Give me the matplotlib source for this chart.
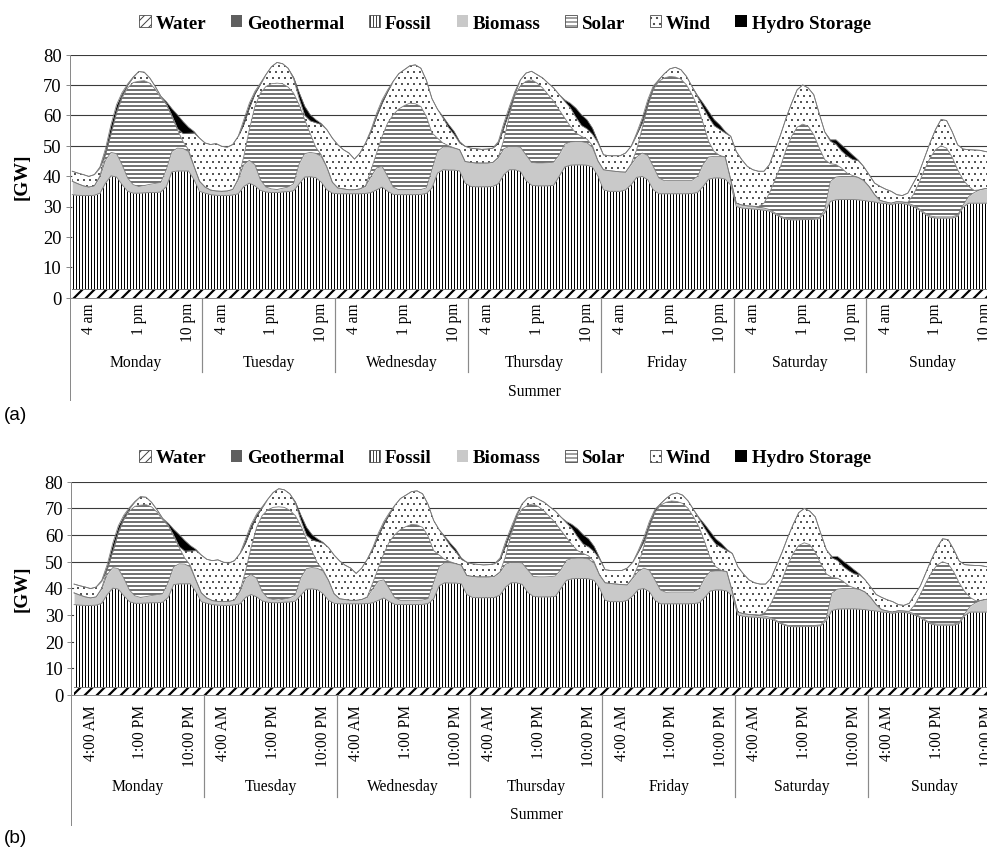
import numpy as np
import matplotlib
matplotlib.use('Agg')
import matplotlib.pyplot as plt
from matplotlib.patches import Patch

plt.rcParams['font.family'] = ['Liberation Serif', 'DejaVu Serif']
plt.rcParams['hatch.linewidth'] = 1.0

# ---------------- data (GW, hourly, hour 1..24 of each day) ----------------
days = ['Monday', 'Tuesday', 'Wednesday', 'Thursday', 'Friday', 'Saturday', 'Sunday']
season = 'Summer'
tick_hours = [3, 12, 21]
tick_labels_a = ['4 am', '1 pm', '10 pm']
tick_labels_b = ['4:00 AM', '1:00 PM', '10:00 PM']
series_names = ['Water', 'Geothermal', 'Fossil', 'Biomass', 'Solar', 'Wind', 'Hydro Storage']

water = [
    2.6, 2.6, 2.6, 2.6, 2.6, 2.6, 2.6, 2.6, 2.6, 2.6, 2.6, 2.6, 2.6, 2.6, 2.6, 2.6, 2.6, 2.6, 2.6, 2.6, 2.6, 2.6, 2.6, 2.6,
    2.6, 2.6, 2.6, 2.6, 2.6, 2.6, 2.6, 2.6, 2.6, 2.6, 2.6, 2.6, 2.6, 2.6, 2.6, 2.6, 2.6, 2.6, 2.6, 2.6, 2.6, 2.6, 2.6, 2.6,
    2.6, 2.6, 2.6, 2.6, 2.6, 2.6, 2.6, 2.6, 2.6, 2.6, 2.6, 2.6, 2.6, 2.6, 2.6, 2.6, 2.6, 2.6, 2.6, 2.6, 2.6, 2.6, 2.6, 2.6,
    2.6, 2.6, 2.6, 2.6, 2.6, 2.6, 2.6, 2.6, 2.6, 2.6, 2.6, 2.6, 2.6, 2.6, 2.6, 2.6, 2.6, 2.6, 2.6, 2.6, 2.6, 2.6, 2.6, 2.6,
    2.6, 2.6, 2.6, 2.6, 2.6, 2.6, 2.6, 2.6, 2.6, 2.6, 2.6, 2.6, 2.6, 2.6, 2.6, 2.6, 2.6, 2.6, 2.6, 2.6, 2.6, 2.6, 2.6, 2.6,
    2.6, 2.6, 2.6, 2.6, 2.6, 2.6, 2.6, 2.6, 2.6, 2.6, 2.6, 2.6, 2.6, 2.6, 2.6, 2.6, 2.6, 2.6, 2.6, 2.6, 2.6, 2.6, 2.6, 2.6,
    2.6, 2.6, 2.6, 2.6, 2.6, 2.6, 2.6, 2.6, 2.6, 2.6, 2.6, 2.6, 2.6, 2.6, 2.6, 2.6, 2.6, 2.6, 2.6, 2.6, 2.6, 2.6, 2.6, 2.6,
]
geothermal = [
    0.2, 0.2, 0.2, 0.2, 0.2, 0.2, 0.2, 0.2, 0.2, 0.2, 0.2, 0.2, 0.2, 0.2, 0.2, 0.2, 0.2, 0.2, 0.2, 0.2, 0.2, 0.2, 0.2, 0.2,
    0.2, 0.2, 0.2, 0.2, 0.2, 0.2, 0.2, 0.2, 0.2, 0.2, 0.2, 0.2, 0.2, 0.2, 0.2, 0.2, 0.2, 0.2, 0.2, 0.2, 0.2, 0.2, 0.2, 0.2,
    0.2, 0.2, 0.2, 0.2, 0.2, 0.2, 0.2, 0.2, 0.2, 0.2, 0.2, 0.2, 0.2, 0.2, 0.2, 0.2, 0.2, 0.2, 0.2, 0.2, 0.2, 0.2, 0.2, 0.2,
    0.2, 0.2, 0.2, 0.2, 0.2, 0.2, 0.2, 0.2, 0.2, 0.2, 0.2, 0.2, 0.2, 0.2, 0.2, 0.2, 0.2, 0.2, 0.2, 0.2, 0.2, 0.2, 0.2, 0.2,
    0.2, 0.2, 0.2, 0.2, 0.2, 0.2, 0.2, 0.2, 0.2, 0.2, 0.2, 0.2, 0.2, 0.2, 0.2, 0.2, 0.2, 0.2, 0.2, 0.2, 0.2, 0.2, 0.2, 0.2,
    0.2, 0.2, 0.2, 0.2, 0.2, 0.2, 0.2, 0.2, 0.2, 0.2, 0.2, 0.2, 0.2, 0.2, 0.2, 0.2, 0.2, 0.2, 0.2, 0.2, 0.2, 0.2, 0.2, 0.2,
    0.2, 0.2, 0.2, 0.2, 0.2, 0.2, 0.2, 0.2, 0.2, 0.2, 0.2, 0.2, 0.2, 0.2, 0.2, 0.2, 0.2, 0.2, 0.2, 0.2, 0.2, 0.2, 0.2, 0.2,
]
fossil = [
    31.1, 30.9, 30.8, 30.8, 30.9, 31.6, 34.9, 37.3, 36.9, 34.4, 32.2, 31.6, 31.6, 31.7, 31.8, 31.8, 32.0, 33.8, 38.6, 38.9, 38.9, 38.9, 36.0, 32.2,
    31.6, 31.1, 30.9, 30.8, 30.8, 31.0, 31.4, 33.8, 34.9, 34.0, 32.5, 32.0, 31.8, 31.8, 32.0, 32.1, 32.4, 34.7, 36.9, 37.0, 36.7, 35.2, 32.7, 31.6,
    31.4, 31.4, 31.4, 31.4, 31.4, 31.5, 31.8, 32.7, 33.6, 32.2, 31.2, 31.1, 31.1, 31.1, 31.1, 31.2, 31.5, 33.3, 38.2, 39.3, 39.2, 39.2, 38.9, 34.9,
    33.8, 33.7, 33.7, 33.7, 33.8, 34.7, 37.7, 39.3, 39.3, 38.7, 35.7, 34.2, 34.0, 34.0, 34.0, 34.2, 37.2, 40.2, 40.8, 40.9, 40.9, 40.8, 40.2, 37.2,
    32.7, 32.2, 32.2, 32.2, 32.7, 34.4, 36.8, 37.1, 36.0, 32.7, 31.4, 31.4, 31.4, 31.4, 31.4, 31.4, 31.5, 31.8, 33.8, 36.2, 36.6, 36.6, 36.2, 34.2,
    27.2, 26.7, 26.5, 26.4, 26.2, 26.0, 25.7, 24.7, 23.7, 23.0, 22.8, 22.8, 22.9, 22.9, 23.0, 23.2, 25.2, 28.9, 29.4, 29.5, 29.5, 29.5, 29.4, 29.2,
    28.9, 28.7, 28.3, 28.2, 27.8, 28.3, 28.2, 27.8, 27.2, 26.1, 24.8, 23.7, 23.4, 23.4, 23.4, 23.4, 24.0, 27.0, 28.3, 28.3, 28.3, 28.3, 28.3, 28.3,
]
biomass = [
    4.4, 3.8, 3.2, 2.8, 3.1, 5.3, 7.5, 7.7, 7.7, 6.6, 4.4, 2.8, 2.2, 2.4, 2.7, 3.0, 3.1, 5.5, 6.7, 7.5, 7.4, 6.4, 4.4, 3.3,
    2.0, 1.5, 1.4, 1.4, 1.5, 1.8, 4.6, 7.2, 7.5, 7.0, 3.5, 1.6, 1.2, 1.0, 1.2, 1.5, 2.3, 6.5, 7.7, 8.0, 8.0, 8.5, 7.5, 3.6,
    1.9, 1.6, 1.3, 1.3, 1.6, 2.3, 5.3, 7.2, 6.8, 4.9, 2.4, 1.6, 1.6, 1.6, 1.6, 1.6, 1.8, 6.0, 7.1, 7.5, 7.6, 7.2, 7.0, 7.1,
    7.9, 7.8, 7.8, 7.8, 7.9, 8.5, 8.5, 7.7, 7.7, 8.0, 8.5, 7.5, 7.5, 7.5, 7.6, 7.6, 7.0, 7.5, 7.6, 7.6, 7.6, 7.4, 6.5, 5.0,
    6.6, 6.8, 6.6, 6.4, 5.8, 6.6, 6.7, 7.7, 8.0, 7.7, 5.2, 4.3, 4.4, 4.4, 4.4, 4.4, 4.3, 5.3, 7.2, 7.3, 7.1, 7.1, 7.3, 1.8,
    1.1, 1.0, 0.9, 0.9, 0.8, 0.7, 0.5, 0.4, 0.3, 0.3, 0.3, 0.3, 0.3, 0.3, 0.3, 0.3, 1.0, 6.5, 7.5, 7.6, 7.6, 7.6, 7.4, 6.6,
    4.9, 2.4, 0.9, 0.5, 0.5, 0.5, 0.5, 0.5, 0.4, 0.4, 0.4, 0.4, 0.4, 0.4, 0.4, 0.4, 0.4, 0.7, 2.2, 3.5, 4.4, 4.8, 4.9, 4.9,
]
solar = [
    0, 0, 0, 0, 0, 0.4, 1.8, 5.8, 13.3, 21.9, 29.6, 33.6, 34.6, 34.5, 33.3, 31.0, 27.8, 21.5, 11.5, 6.1, 2.3, 0.6, 0.1, 0,
    0, 0, 0, 0, 0, 0, 0.4, 2.7, 10.1, 19.1, 28.5, 33.1, 34.6, 35.0, 34.4, 32.9, 29.8, 19.5, 11.2, 6.2, 2.0, 0.5, 0, 0,
    0, 0, 0, 0, 0, 0.2, 2.2, 4.9, 9.9, 17.6, 23.8, 26.6, 27.7, 28.5, 28.3, 27.3, 23.5, 12.1, 4.4, 1.3, 0.4, 0.1, 0, 0,
    0, 0, 0, 0, 0, 0.2, 3.0, 10.2, 16.7, 20.3, 24.2, 27.2, 26.3, 24.7, 22.4, 20.0, 14.8, 8.6, 5.2, 2.9, 1.8, 1.2, 0.6, 0,
    0, 0, 0, 0, 0, 0.2, 2.4, 8.2, 16.1, 25.2, 31.8, 33.8, 34.2, 34.0, 33.3, 31.4, 28.2, 23.0, 13.7, 5.1, 1.6, 0.3, 0, 0,
    0, 0, 0, 0, 0.2, 1.6, 5.4, 10.9, 16.4, 22.6, 27.2, 30.2, 31.1, 30.4, 27.5, 22.9, 16.4, 5.9, 4.1, 2.8, 1.1, 0.3, 0, 0,
    0, 0, 0, 0, 0, 0, 0, 0.3, 3.5, 8.4, 14.1, 19.0, 22.1, 23.4, 22.6, 19.7, 14.9, 8.3, 3.3, 0.7, 0, 0, 0, 0,
]
wind = [
    3.3, 3.5, 3.7, 3.5, 3.7, 2.7, 0.5, 0.6, 0.6, 0.8, 1.0, 1.7, 3.2, 2.8, 1.7, 0.9, 0.6, 0.2, 0.4, 0.4, 2.6, 5.4, 10.9, 14.2,
    14.5, 15.0, 15.6, 14.8, 14.4, 14.8, 13.9, 10.6, 7.2, 4.2, 3.0, 3.9, 5.6, 6.8, 6.6, 6.2, 4.7, 2.0, 1.4, 4.2, 8.1, 10.0, 12.3, 14.5,
    14.2, 12.9, 12.1, 10.1, 11.8, 14.1, 12.7, 12.1, 11.0, 10.4, 11.0, 11.6, 11.8, 12.3, 12.8, 12.6, 11.9, 11.3, 9.5, 8.2, 6.0, 4.4, 2.2, 5.0,
    4.7, 4.7, 4.5, 4.6, 4.7, 4.7, 4.0, 1.4, 0.9, 1.9, 2.7, 2.8, 2.8, 3.3, 3.8, 4.4, 5.0, 5.5, 6.1, 5.2, 3.6, 3.4, 3.7, 5.9,
    4.9, 4.9, 5.1, 5.3, 6.3, 5.8, 5.0, 1.8, 0.7, 0.8, 0.5, 1.4, 2.5, 3.2, 3.1, 2.8, 2.7, 3.1, 5.0, 7.9, 8.5, 8.6, 7.9, 14.3,
    17.0, 14.9, 13.0, 12.0, 11.6, 10.5, 9.4, 9.9, 10.4, 10.4, 10.9, 12.3, 12.9, 12.6, 13.2, 11.3, 9.1, 7.4, 6.7, 5.6, 5.7, 5.3, 5.5, 4.6,
    3.9, 3.8, 4.6, 4.2, 3.9, 2.3, 2.1, 3.0, 3.8, 3.3, 3.8, 5.0, 6.6, 8.6, 9.1, 8.4, 8.2, 10.1, 12.1, 13.3, 13.0, 12.2, 11.8, 11.5,
]
hydro_storage = [
    0, 0, 0, 0, 0, 0.2, 1.5, 2.8, 2.2, 1.0, 0.3, 0.1, 0, 0, 0, 0, 0, 0.7, 2.2, 4.5, 4.0, 2.0, 0.5, 0,
    0, 0, 0, 0, 0, 0, 0, 1.5, 1.5, 0.8, 0.3, 0, 0, 0, 0, 0, 0.5, 2.0, 3.0, 2.0, 1.0, 0.3, 0, 0,
    0, 0, 0, 0, 0, 0, 0.5, 1.0, 1.0, 0.5, 0, 0, 0, 0, 0, 0, 0, 0, 0, 0.5, 1.0, 1.0, 0.5, 0,
    0, 0, 0, 0, 0, 0.5, 1.5, 1.5, 0.5, 0, 0, 0, 0, 0, 0, 0, 0, 0.5, 1.5, 3.0, 3.5, 3.0, 2.0, 0.5,
    0, 0, 0, 0, 0, 0, 0.5, 1.5, 1.5, 0.5, 0, 0, 0, 0, 0, 0, 0, 0.5, 1.5, 2.0, 2.0, 1.5, 0.5, 0,
    0, 0, 0, 0, 0, 0, 0, 0, 0, 0, 0, 0, 0, 0, 0, 0, 0, 0.5, 1.5, 2.0, 2.0, 1.5, 0.3, 0,
    0, 0, 0, 0, 0, 0, 0, 0, 0, 0, 0, 0, 0, 0, 0, 0, 0, 0, 0, 0, 0, 0, 0, 0,
]

# ---------------- styling ----------------
W_PX, H_PX = 987, 852
DPI = 72
fig = plt.figure(figsize=(13.71, 11.84), dpi=DPI)

stack = [water, geothermal, fossil, biomass, solar, wind, hydro_storage]
styles = [
    dict(face='white', hatch='//', hlw=2.2),
    dict(face='#5f5f5f', hatch=None, hlw=1.0),
    dict(face='white', hatch='||||', hlw=1.0),
    dict(face='#c9c9c9', hatch=None, hlw=1.0),
    dict(face='white', hatch='---', hlw=1.1),
    dict(face='white', hatch='..', hlw=0.55),
    dict(face='black', hatch=None, hlw=1.0),
]
legend_hatch = ['///', None, '||||', None, '---', '..', None]
AXIS_GRAY = '#8a8a8a'
n_hours = len(fossil)
xpos = np.arange(n_hours) + 0.5


def draw_panel(left, top, right, bottom, legend_y, tick_labels, tick_top,
               day_y, sep_bottom, summer_y, left_bottom, tag, tag_y):
    ax = fig.add_axes([left / W_PX, 1 - bottom / H_PX,
                       (right - left) / W_PX, (bottom - top) / H_PX])
    hgt = bottom - top

    def yf(py):
        return (bottom - py) / hgt

    polys = ax.stackplot(xpos, *stack, colors=[s['face'] for s in styles],
                         edgecolor='black', linewidth=0, zorder=2)
    for p, s in zip(polys, styles):
        if s['hatch']:
            p.set_hatch(s['hatch'])
            if hasattr(p, 'set_hatch_linewidth'):
                p.set_hatch_linewidth(s['hlw'])
    tops = np.cumsum(np.vstack(stack), axis=0)
    for t in tops[1:]:
        ax.plot(xpos, t, color='#7a7a7a', lw=0.8, zorder=3)

    ax.set_xlim(0, n_hours)
    ax.set_ylim(0, 80)
    ax.set_yticks(range(0, 81, 10))
    ax.set_xticks([])
    ax.yaxis.grid(True, color='#3a3a3a', lw=1.1, zorder=0)
    ax.set_axisbelow(True)
    for sp in ('top', 'right'):
        ax.spines[sp].set_visible(False)
    for sp in ('left', 'bottom'):
        ax.spines[sp].set_color(AXIS_GRAY)
        ax.spines[sp].set_linewidth(1.0)
    ax.tick_params(axis='y', direction='out', length=4, width=1,
                   color=AXIS_GRAY, labelsize=18.5, pad=4)

    tr = ax.get_xaxis_transform()
    for d, day in enumerate(days):
        for h, lab in zip(tick_hours, tick_labels):
            ax.text(d * 24 + h + 0.5, yf(tick_top), lab, rotation=90,
                    ha='center', va='top', transform=tr, fontsize=15.5,
                    clip_on=False)
        ax.text(d * 24 + 12, yf(day_y), day, ha='center', va='center',
                transform=tr, fontsize=15.6, clip_on=False)
        if d > 0:
            ax.plot([d * 24, d * 24], [0, yf(sep_bottom)], transform=tr,
                    color=AXIS_GRAY, lw=1.2, clip_on=False)
    ax.plot([0, 0], [0, yf(left_bottom)], transform=tr, color=AXIS_GRAY,
            lw=1.0, clip_on=False)
    ax.text(n_hours / 2, yf(summer_y), season, ha='center', va='center',
            transform=tr, fontsize=15.6, clip_on=False)

    fig.text(22 / W_PX, 1 - (top + bottom) / 2 / H_PX, '[GW]', rotation=90,
             ha='center', va='center', fontsize=19, fontweight='bold')
    fig.text(4 / W_PX, 1 - tag_y / H_PX, tag, ha='left', va='center',
             fontsize=19, family=['Liberation Sans', 'DejaVu Sans'])

    handles = []
    for s, lh in zip(styles, legend_hatch):
        if lh:
            handles.append(Patch(facecolor=s['face'], edgecolor='#444444',
                                 hatch=lh, linewidth=0.8))
        else:
            handles.append(Patch(facecolor=s['face'], edgecolor='black',
                                 linewidth=0))
    fig.legend(handles, series_names, loc='center',
               bbox_to_anchor=(505 / W_PX, 1 - legend_y / H_PX), ncol=7,
               frameon=False, prop={'weight': 'bold', 'size': 19},
               handlelength=0.6, handleheight=0.6, handletextpad=0.25,
               columnspacing=1.3, borderaxespad=0, borderpad=0)
    return ax


draw_panel(69.5, 55, 999, 298, 24, tick_labels_a, 303, 363, 372, 392, 400,
           '(a)', 415)
draw_panel(71.3, 482, 1000.5, 695, 458, tick_labels_b, 705, 787, 797, 815,
           825, '(b)', 838)

fig.savefig('out.png', dpi=DPI)
